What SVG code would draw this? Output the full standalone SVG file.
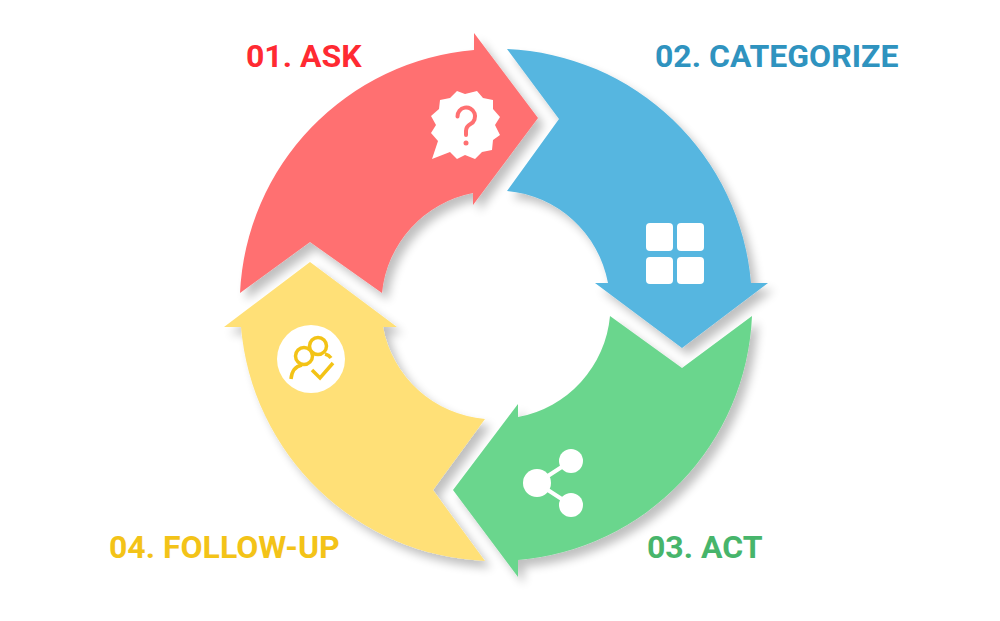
<svg xmlns="http://www.w3.org/2000/svg" width="1000" height="621" viewBox="0 0 1000 621">
<defs>
<filter id="sh" x="-10%" y="-10%" width="125%" height="125%"><feGaussianBlur in="SourceAlpha" stdDeviation="5"/><feOffset dx="6" dy="7"/><feComponentTransfer><feFuncA type="linear" slope="0.25"/></feComponentTransfer><feMerge><feMergeNode/><feMergeNode in="SourceGraphic"/></feMerge></filter>
</defs>
<style>
text{font-family:Roboto,"Liberation Sans",sans-serif;font-weight:700;font-size:32px}
.w{fill:#fff}
</style>
<rect width="1000" height="621" fill="#fff"/>
<g id="connectors"/>
<g filter="url(#sh)">
<g id="node-ask"><path fill="#ff6f71" d="M240 293A256 256 0 0 1 474 50L474 33L538 118L473 205L473 193A113 113 0 0 0 382 293L310 242Z"/>
<path class="w" d="M457 91L465 94L477 91L483 98L493 100L493 109L500 117L495 125L500 135L493 140L492 150L482 152L475 159L465 155L457 159L450 152L432 159L438 141L431 133L436 125L431 116L439 109L440 100L450 98Z"/>
<path d="M457.500 116.500a8.800 8.800 0 1 1 13 7.500q-4.500 2.500-4.500 7v4" fill="none" stroke="#ff6f71" stroke-width="4" stroke-linecap="round"/><circle cx="466" cy="143" r="2.500" fill="#ff6f71"/></g>
<g id="node-categorize"><path fill="#56b6e0" d="M507 49A256 256 0 0 1 751 283L768 283L682 348L595 283L608 283A113 113 0 0 0 507 191L559 119Z"/>
<rect class="w" x="646" y="223" width="27" height="28" rx="4"/><rect class="w" x="677" y="223" width="27" height="28" rx="4"/><rect class="w" x="646" y="257" width="27" height="27" rx="4"/><rect class="w" x="677" y="257" width="27" height="27" rx="4"/></g>
<g id="node-act"><path fill="#6bd68d" d="M752 316A256 256 0 0 1 518 560L518 577L453 490L518 404L518 417A113 113 0 0 0 610 316L682 368Z"/>
<path d="M537 483L571 461M537 483L571 505" stroke="#fff" stroke-width="4"/><circle class="w" cx="537" cy="483" r="14"/><circle class="w" cx="571" cy="461" r="12"/><circle class="w" cx="571" cy="505" r="12"/></g>
<g id="node-follow-up"><path fill="#ffe077" d="M485 561A256 256 0 0 1 241 327L224 327L310 262L397 327L383 327A113 113 0 0 0 485 419L433 490Z"/>
<circle class="w" cx="311" cy="359" r="34"/>
<g fill="none" stroke="#f3c318" stroke-width="3.500"><circle cx="318" cy="346" r="8.500"/><circle cx="304" cy="356" r="8.500" fill="#fff"/><path d="M291 379q1-12 11-14M325 354q4 1 6 4M312 370l8 8 13-15"/></g></g>
</g>
<text id="label-ask" x="246" y="67" fill="#ff2a32">01. ASK</text>
<text id="label-categorize" x="655" y="67" fill="#2f93bf">02. CATEGORIZE</text>
<text id="label-act" x="647" y="558" fill="#47b56b">03. ACT</text>
<text id="label-follow-up" x="109" y="558" fill="#f3c318">04. FOLLOW-UP</text>
</svg>
